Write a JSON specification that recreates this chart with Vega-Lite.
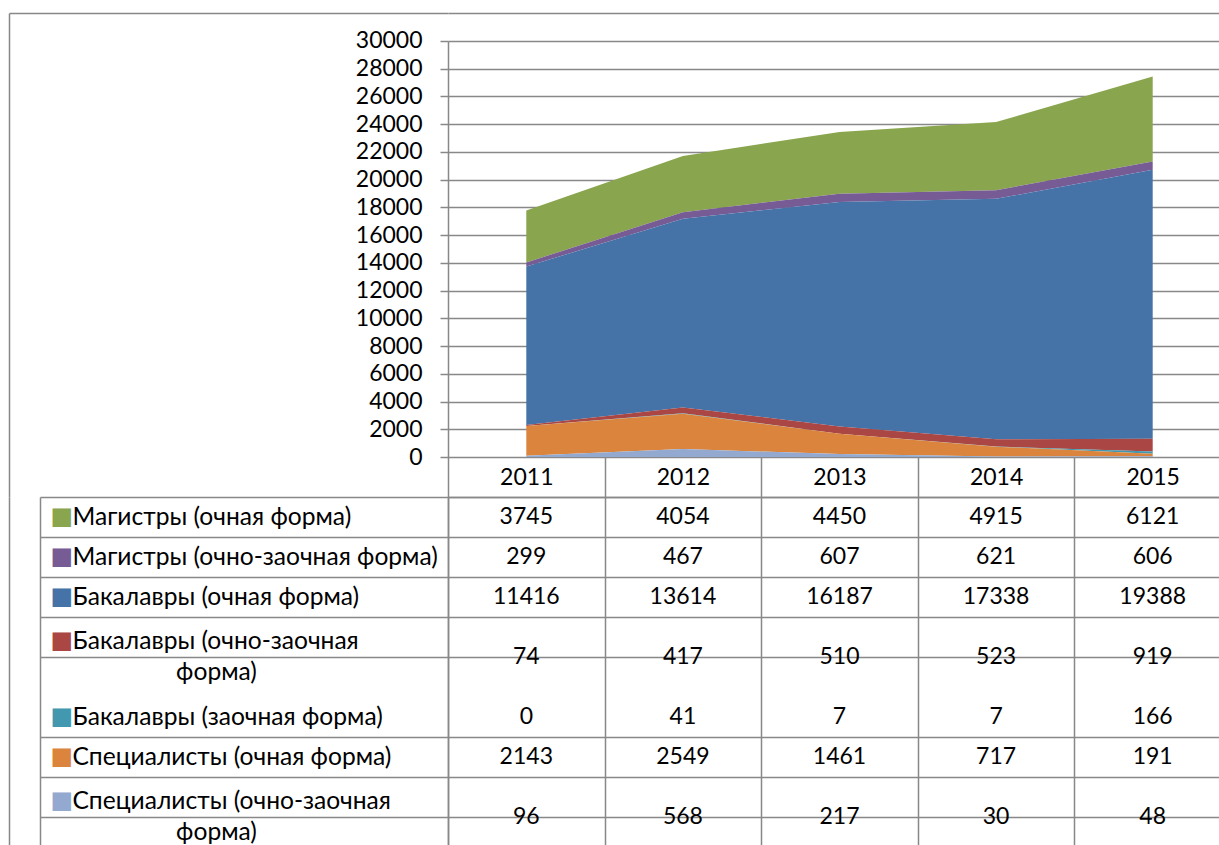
{
  "$schema": "https://vega.github.io/schema/vega-lite/v6.json",
  "padding": {"left": 8, "top": 12, "right": 0, "bottom": 0},
  "background": "white",
  "spacing": 0,
  "bounds": "flush",
  "config": {"view": {"stroke": null}, "font": "Lato"},
  "datasets": {
    "d": [
      {"series": "Магистры (очная форма)", "year": "2011", "value": 3745},
      {"series": "Магистры (очная форма)", "year": "2012", "value": 4054},
      {"series": "Магистры (очная форма)", "year": "2013", "value": 4450},
      {"series": "Магистры (очная форма)", "year": "2014", "value": 4915},
      {"series": "Магистры (очная форма)", "year": "2015", "value": 6121},
      {"series": "Магистры (очно-заочная форма)", "year": "2011", "value": 299},
      {"series": "Магистры (очно-заочная форма)", "year": "2012", "value": 467},
      {"series": "Магистры (очно-заочная форма)", "year": "2013", "value": 607},
      {"series": "Магистры (очно-заочная форма)", "year": "2014", "value": 621},
      {"series": "Магистры (очно-заочная форма)", "year": "2015", "value": 606},
      {"series": "Бакалавры (очная форма)", "year": "2011", "value": 11416},
      {"series": "Бакалавры (очная форма)", "year": "2012", "value": 13614},
      {"series": "Бакалавры (очная форма)", "year": "2013", "value": 16187},
      {"series": "Бакалавры (очная форма)", "year": "2014", "value": 17338},
      {"series": "Бакалавры (очная форма)", "year": "2015", "value": 19388},
      {"series": "Бакалавры (очно-заочная форма)", "year": "2011", "value": 74},
      {"series": "Бакалавры (очно-заочная форма)", "year": "2012", "value": 417},
      {"series": "Бакалавры (очно-заочная форма)", "year": "2013", "value": 510},
      {"series": "Бакалавры (очно-заочная форма)", "year": "2014", "value": 523},
      {"series": "Бакалавры (очно-заочная форма)", "year": "2015", "value": 919},
      {"series": "Бакалавры (заочная форма)", "year": "2011", "value": 0},
      {"series": "Бакалавры (заочная форма)", "year": "2012", "value": 41},
      {"series": "Бакалавры (заочная форма)", "year": "2013", "value": 7},
      {"series": "Бакалавры (заочная форма)", "year": "2014", "value": 7},
      {"series": "Бакалавры (заочная форма)", "year": "2015", "value": 166},
      {"series": "Специалисты (очная форма)", "year": "2011", "value": 2143},
      {"series": "Специалисты (очная форма)", "year": "2012", "value": 2549},
      {"series": "Специалисты (очная форма)", "year": "2013", "value": 1461},
      {"series": "Специалисты (очная форма)", "year": "2014", "value": 717},
      {"series": "Специалисты (очная форма)", "year": "2015", "value": 191},
      {"series": "Специалисты (очно-заочная форма)", "year": "2011", "value": 96},
      {"series": "Специалисты (очно-заочная форма)", "year": "2012", "value": 568},
      {"series": "Специалисты (очно-заочная форма)", "year": "2013", "value": 217},
      {"series": "Специалисты (очно-заочная форма)", "year": "2014", "value": 30},
      {"series": "Специалисты (очно-заочная форма)", "year": "2015", "value": 48}
    ]
  },
  "vconcat": [
    {
      "width": 783,
      "height": 484,
      "data": {"name": "d"},
      "layer": [
        {
          "transform": [{"calculate": "indexof(['Специалисты (очно-заочная форма)', 'Специалисты (очная форма)', 'Бакалавры (заочная форма)', 'Бакалавры (очно-заочная форма)', 'Бакалавры (очная форма)', 'Магистры (очно-заочная форма)', 'Магистры (очная форма)'], datum.series)", "as": "stackOrder"}],
          "mark": {"type": "area"},
          "encoding": {
            "x": {
              "field": "year", "type": "ordinal", "bandPosition": 0.5,
              "scale": {"type": "band", "paddingInner": 0, "paddingOuter": 0},
              "axis": {
                "orient": "bottom", "title": null, "domain": true, "domainColor": "#888", "domainWidth": 1.5,
                "ticks": true, "tickBand": "extent", "tickColor": "#888", "tickWidth": 1.5,
                "tickSize": {"condition": {"test": "!!datum.extra", "value": -456}, "value": -40},
                "labelPadding": 20,
                "labelAngle": 0, "labelBaseline": "middle",
                "labelFont": "Lato", "labelFontSize": 23, "labelColor": "#000", "grid": false
              }
            },
            "y": {
              "field": "value", "type": "quantitative", "stack": "zero",
              "scale": {"domain": [-2884.6, 32019.2], "nice": false, "zero": false},
              "axis": {
                "orient": "left", "title": null,
                "values": [0, 2000, 4000, 6000, 8000, 10000, 12000, 14000, 16000, 18000, 20000, 22000, 24000, 26000, 28000, 30000],
                "format": "d", "domain": false,
                "tickSize": 8, "tickColor": "#888", "tickWidth": 1.5,
                "grid": true, "gridColor": "#888", "gridWidth": 1.5,
                "labelPadding": 18, "labelFont": "Lato", "labelFontSize": 23, "labelColor": "#000", "labelOverlap": false
              }
            },
            "order": {"field": "stackOrder", "type": "quantitative", "sort": "ascending"},
            "color": {
              "field": "series", "type": "nominal",
              "scale": {
                "domain": ["Специалисты (очно-заочная форма)", "Специалисты (очная форма)", "Бакалавры (заочная форма)", "Бакалавры (очно-заочная форма)", "Бакалавры (очная форма)", "Магистры (очно-заочная форма)", "Магистры (очная форма)"],
                "range": ["#93A9CF", "#DB843D", "#4198AF", "#AA4643", "#4572A7", "#775B95", "#89A54E"]
              },
              "legend": null
            }
          }
        },
        {
          "mark": {"type": "point", "opacity": 0},
          "encoding": {
            "x": {
              "field": "year", "type": "ordinal",
              "axis": {"orient": "top", "title": null, "domain": true, "domainColor": "#888", "domainWidth": 1.5, "ticks": false, "labels": false, "grid": false}
            },
            "y": {
              "field": "value", "type": "quantitative",
              "axis": {
                "orient": "left", "offset": 439, "title": null, "domain": true, "domainColor": "#888", "domainWidth": 1.5,
                "values": [32019.2], "tickSize": -439, "tickColor": "#888", "tickWidth": 1.5, "labels": false, "grid": false
              }
            }
          }
        }
      ],
      "resolve": {"axis": {"x": "independent", "y": "independent"}}
    },
    {
      "width": 783,
      "height": 360,
      "data": {"name": "d"},
      "layer": [
        {
          "transform": [{"filter": "datum.series != 'Бакалавры (очно-заочная форма)' && datum.series != 'Специалисты (очно-заочная форма)'"}],
          "mark": {"type": "text", "font": "Lato", "fontSize": 23, "color": "#000", "baseline": "middle", "align": "center"},
          "encoding": {
            "x": {
              "field": "year", "type": "ordinal",
              "scale": {"type": "band", "paddingInner": 0, "paddingOuter": 0},
              "axis": {"orient": "bottom", "title": null, "domain": false, "ticks": false, "labels": false, "grid": true, "tickBand": "extent", "gridColor": "#888", "gridWidth": 1.5}
            },
            "y": {
              "field": "series", "type": "nominal",
              "scale": {
                "type": "band", "paddingInner": 0, "paddingOuter": 0,
                "domain": ["Магистры (очная форма)", "Магистры (очно-заочная форма)", "Бакалавры (очная форма)", "Бакалавры (очно-заочная форма)", "Бакалавры (очно-заочная форма)#2", "Бакалавры (заочная форма)", "Специалисты (очная форма)", "Специалисты (очно-заочная форма)", "Специалисты (очно-заочная форма)#2"]
              },
              "axis": {
                "orient": "left", "title": null, "domain": true, "domainColor": "#888", "domainWidth": 1.5,
                "tickBand": "extent", "tickSize": 408, "tickColor": "#888", "tickWidth": 1.5,
                "tickOpacity": {"condition": {"test": "indexof(datum.value + '', '#2') >= 0", "value": 0}, "value": 1},
                "grid": true, "gridColor": "#888", "gridWidth": 1.5,
                "gridOpacity": {"condition": {"test": "indexof(datum.value + '', '#2') >= 0", "value": 0}, "value": 1},
                "labelExpr": "!datum.value ? '' : indexof(datum.value + '', '#2') >= 0 ? 'форма)' : datum.value == 'Бакалавры (очно-заочная форма)' ? 'Бакалавры (очно-заочная' : datum.value == 'Специалисты (очно-заочная форма)' ? 'Специалисты (очно-заочная' : datum.value",
                "labelAlign": {"condition": {"test": "indexof(datum.value + '', '#2') >= 0", "value": "center"}, "value": "left"},
                "labelPadding": {"condition": {"test": "indexof(datum.value + '', '#2') >= 0", "value": -176}, "value": -32},
                "labelOffset": {
                  "condition": [
                    {"test": "indexof(datum.value + '', '#2') >= 0", "value": -5},
                    {"test": "datum.value == 'Бакалавры (очно-заочная форма)' || datum.value == 'Специалисты (очно-заочная форма)'", "value": 4}
                  ],
                  "value": 0
                },
                "labelFont": "Lato", "labelFontSize": 24.6, "labelColor": "#000", "labelLimit": 600, "labelOverlap": false, "labelBound": false
              }
            },
            "text": {"field": "value", "type": "quantitative", "format": "d"}
          }
        },
        {
          "transform": [{"filter": "datum.series == 'Бакалавры (очно-заочная форма)' || datum.series == 'Специалисты (очно-заочная форма)'"}],
          "mark": {"type": "text", "font": "Lato", "fontSize": 23, "color": "#000", "baseline": "middle", "align": "center"},
          "encoding": {
            "x": {"field": "year", "type": "ordinal", "axis": null},
            "y": {
              "field": "series", "type": "nominal", "bandPosition": 1,
              "axis": {"orient": "left", "offset": 439, "title": null, "domain": true, "domainColor": "#888", "domainWidth": 1.5, "ticks": false, "labels": false, "grid": false}
            },
            "text": {"field": "value", "type": "quantitative", "format": "d"}
          }
        },
        {
          "mark": {"type": "text", "opacity": 0},
          "encoding": {
            "x": {"field": "year", "type": "ordinal", "axis": null},
            "y": {
              "field": "series", "type": "nominal",
              "axis": {
                "orient": "left", "offset": 408, "title": null, "domain": true, "domainColor": "#888", "domainWidth": 1.5,
                "ticks": false, "grid": false,
                "labelExpr": "!datum.value || indexof(datum.value + '', '#2') >= 0 ? '' : '■'",
                "labelAlign": "left", "labelPadding": -10, "labelFont": "DejaVu Sans", "labelFontSize": 24,
                "labelOffset": {"condition": {"test": "datum.value == 'Бакалавры (очно-заочная форма)' || datum.value == 'Специалисты (очно-заочная форма)'", "value": 4}, "value": 0},
                "labelColor": {
                  "condition": [
                    {"test": "datum.value == 'Магистры (очная форма)'", "value": "#89A54E"},
                    {"test": "datum.value == 'Магистры (очно-заочная форма)'", "value": "#775B95"},
                    {"test": "datum.value == 'Бакалавры (очная форма)'", "value": "#4572A7"},
                    {"test": "datum.value == 'Бакалавры (очно-заочная форма)'", "value": "#AA4643"},
                    {"test": "datum.value == 'Бакалавры (заочная форма)'", "value": "#4198AF"},
                    {"test": "datum.value == 'Специалисты (очная форма)'", "value": "#DB843D"},
                    {"test": "datum.value == 'Специалисты (очно-заочная форма)'", "value": "#93A9CF"}
                  ],
                  "value": "#000"
                },
                "labelOverlap": false, "labelBound": false
              }
            },
            "text": {"field": "value", "type": "quantitative", "format": "d"}
          }
        }
      ],
      "resolve": {"axis": {"x": "independent", "y": "independent"}}
    }
  ]
}
